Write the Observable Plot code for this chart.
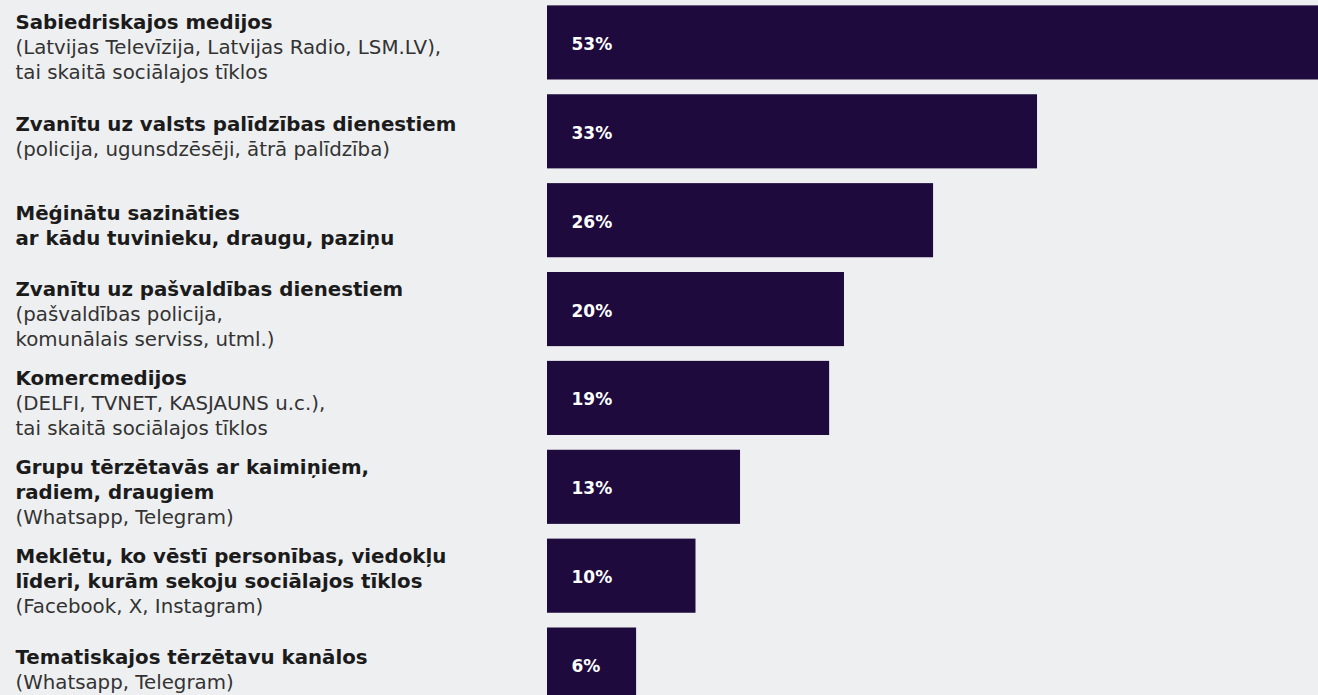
<!DOCTYPE html>
<html>
<head>
<meta charset="utf-8">
<script src="https://cdn.jsdelivr.net/npm/d3@7"></script>
<script src="https://cdn.jsdelivr.net/npm/@observablehq/plot@0.6"></script>
<style>
  html, body { margin: 0; padding: 0; background: #eeeff1; overflow: hidden; }
  #chart svg { display: block; }
</style>
</head>
<body>
<div id="chart"></div>
<script>
// Categories (ordered top to bottom)
const categories = ["sab", "valsts", "tuvinieki", "pasvaldiba", "komerc", "grupas", "viedoklu", "tematiskie"];
// Share of respondents, %
const values = [53, 33, 26, 20, 19, 13, 10, 6];
// Bold title lines per category
const titleLines = [
  ["Sabiedriskajos medijos"],
  ["Zvanītu uz valsts palīdzības dienestiem"],
  ["Mēģinātu sazināties", "ar kādu tuvinieku, draugu, paziņu"],
  ["Zvanītu uz pašvaldības dienestiem"],
  ["Komercmedijos"],
  ["Grupu tērzētavās ar kaimiņiem,", "radiem, draugiem"],
  ["Meklētu, ko vēstī personības, viedokļu", "līderi, kurām sekoju sociālajos tīklos"],
  ["Tematiskajos tērzētavu kanālos"]
];
// Regular sub-lines per category
const noteLines = [
  ["(Latvijas Televīzija, Latvijas Radio, LSM.LV),", "tai skaitā sociālajos tīklos"],
  ["(policija, ugunsdzēsēji, ātrā palīdzība)"],
  [],
  ["(pašvaldības policija,", "komunālais serviss, utml.)"],
  ["(DELFI, TVNET, KASJAUNS u.c.),", "tai skaitā sociālajos tīklos"],
  ["(Whatsapp, Telegram)"],
  ["(Facebook, X, Instagram)"],
  ["(Whatsapp, Telegram)"]
];

const blank = "\u00a0";
const rows = categories.map((c, i) => {
  const t = titleLines[i], n = noteLines[i];
  return {
    cat: c,
    value: values[i],
    label: values[i] + "%",
    boldText: [...t, ...n.map(() => blank)].join("\n"),
    noteText: [...t.map(() => blank), ...n].join("\n")
  };
});

const W = 1318, H = 695;
const fontFam = "'DejaVu Sans', sans-serif";

const chart = Plot.plot({
  width: W,
  height: H,
  marginLeft: 547,
  marginRight: 0,
  marginTop: 0,
  marginBottom: 0,
  style: { background: "#eeeff1", overflow: "hidden" },
  x: { domain: [0, 53], range: [547, 1334], axis: null },
  y: { domain: categories, range: [-2, 709], paddingInner: 0.166, paddingOuter: 0.083, round: false, axis: null },
  marks: [
    Plot.barX(rows, { x: "value", y: "cat", fill: "#1e0a3c", clip: true }),
    Plot.text(rows, {
      x: 0, y: "cat", text: "label", textAnchor: "start", dx: 24, dy: 1.5,
      fill: "#ffffff", fontWeight: "bold", fontSize: 17, fontFamily: fontFam
    }),
    Plot.text(rows, {
      frameAnchor: "left", y: "cat", text: "boldText", textAnchor: "start",
      dx: -532, dy: 3.5, lineHeight: 1.26, lineAnchor: "middle",
      fill: "#1b1b1b", fontWeight: "bold", fontSize: 19.8, fontFamily: fontFam
    }),
    Plot.text(rows, {
      frameAnchor: "left", y: "cat", text: "noteText", textAnchor: "start",
      dx: -532, dy: 3.5, lineHeight: 1.26, lineAnchor: "middle",
      fill: "#333333", fontWeight: "normal", fontSize: 19.8, fontFamily: fontFam
    })
  ]
});
document.getElementById("chart").appendChild(chart);
</script>
</body>
</html>
